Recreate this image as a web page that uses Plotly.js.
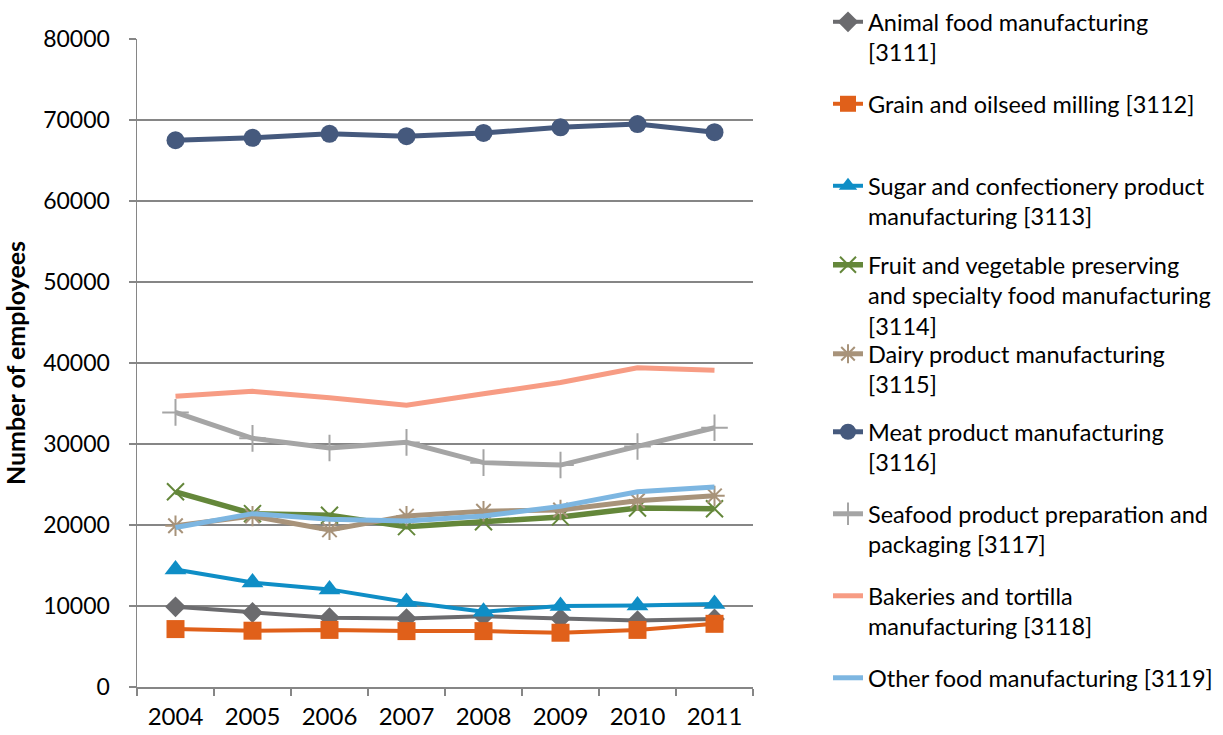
<!DOCTYPE html>
<html>
<head>
<meta charset="utf-8">
<script src="https://cdn.plot.ly/plotly-3.0.1.min.js"></script>
<style>html,body{margin:0;padding:0;background:#fff;}#chart{width:1223px;height:735px;}</style>
</head>
<body>
<div id="chart"></div>
<script>
var years = ['2004','2005','2006','2007','2008','2009','2010','2011'];

var seriesNames = [
  'Animal food manufacturing<br>[3111]',
  'Grain and oilseed milling [3112]',
  'Sugar and confectionery product<br>manufacturing [3113]',
  'Fruit and vegetable preserving<br>and specialty food manufacturing<br>[3114]',
  'Dairy product manufacturing<br>[3115]',
  'Meat product manufacturing<br>[3116]',
  'Seafood product preparation and<br>packaging [3117]',
  'Bakeries and tortilla<br>manufacturing [3118]',
  'Other food manufacturing [3119]'
];

var animalFood   = [9900, 9200, 8550, 8450, 8750, 8450, 8200, 8400];
var grainOilseed = [7150, 6950, 7050, 6900, 6900, 6700, 7050, 7800];
var sugarConf    = [14500, 12900, 12050, 10500, 9300, 10000, 10050, 10250];
var fruitVeg     = [24100, 21400, 21200, 19800, 20400, 21000, 22100, 22000];
var dairy        = [19900, 21100, 19400, 21100, 21700, 21850, 23000, 23600];
var meat         = [67500, 67800, 68300, 68000, 68400, 69100, 69500, 68500];
var seafood      = [33900, 30700, 29500, 30200, 27700, 27400, 29700, 32000];
var bakeries     = [35900, 36500, 35700, 34800, 36200, 37600, 39400, 39100];
var otherFood    = [19700, 21400, 20700, 20500, 21100, 22300, 24100, 24700];

var colors = ['#6B6B6E','#E0601A','#0F8EC6','#64873A','#A8937A','#45597D','#A5A5A5','#F79C84','#7DB6E1'];

function legendId(i) { return i === 0 ? 'legend' : 'legend' + (i + 1); }

function tr(i, vals, lw, marker) {
  var t = {
    type: 'scatter', mode: marker ? 'lines+markers' : 'lines',
    x: years, y: vals, name: seriesNames[i], legend: legendId(i),
    line: {color: colors[i], width: lw},
    cliponaxis: false
  };
  if (marker) t.marker = marker;
  return t;
}

var data = [
  tr(0, animalFood, 4, {symbol: 'diamond', size: 16, color: colors[0]}),
  tr(1, grainOilseed, 4, {symbol: 'square', size: 18, color: colors[1]}),
  tr(2, sugarConf, 4, {symbol: 'triangle-up', size: 19, color: colors[2]}),
  tr(3, fruitVeg, 5.5, {symbol: 'x-thin-open', size: 17, color: colors[3], line: {color: colors[3], width: 2}}),
  tr(4, dairy, 5, {symbol: 'asterisk-open', size: 17, color: colors[4], line: {color: colors[4], width: 2}}),
  tr(5, meat, 5, {symbol: 'circle', size: 18, color: colors[5]}),
  tr(6, seafood, 5, {symbol: 'cross-thin-open', size: 19, color: colors[6], line: {color: colors[6], width: 2}}),
  tr(7, bakeries, 5, null),
  tr(8, otherFood, 5, null)
];

var layout = {
  width: 1223, height: 735,
  margin: {l: 137, r: 470, t: 39, b: 48, autoexpand: false},
  paper_bgcolor: '#ffffff', plot_bgcolor: '#ffffff',
  font: {family: 'Lato, "Open Sans", sans-serif', size: 23, color: '#000000'},
  showlegend: true,
  xaxis: {
    type: 'category', range: [-0.5, 7.5],
    showline: true, linecolor: '#868686', linewidth: 1.5,
    ticks: 'outside', ticklen: 7, tickcolor: '#868686', tickwidth: 1.5,
    tickson: 'boundaries', showgrid: false, zeroline: false,
    ticklabelstandoff: 8,
    tickfont: {family: 'Lato, sans-serif', size: 24, color: '#000000'}
  },
  yaxis: {
    range: [0, 80000], dtick: 10000, tick0: 0, tickformat: 'd',
    showline: true, linecolor: '#868686', linewidth: 1.5,
    ticks: 'outside', ticklen: 7, tickcolor: '#868686', tickwidth: 1.5,
    showgrid: true, gridcolor: '#868686', gridwidth: 1.3, zeroline: false,
    ticklabelstandoff: 14,
    tickfont: {family: 'Lato, sans-serif', size: 23, color: '#000000'},
    title: {text: '<b>Number of employees</b>', font: {family: 'Lato, sans-serif', size: 25, color: '#000000'}, standoff: 12}
  }
};

// one legend box per series, stacked at a fixed pitch like the original
var plotTop = 39, plotH = 648, pitch = 82, firstTop = 0;
var nudge = [0, 0, 0, -3, 4, 0, 0, 0, 0];
for (var i = 0; i < seriesNames.length; i++) {
  var topPx = firstTop + pitch * i + nudge[i];
  layout[legendId(i)] = {
    x: (828 - 137) / 616, xanchor: 'left',
    y: 1 + (plotTop - topPx) / plotH, yanchor: 'top',
    yref: 'paper', xref: 'paper',
    font: {family: 'Lato, sans-serif', size: 23.5, color: '#000000'},
    valign: 'top', bgcolor: 'rgba(0,0,0,0)', borderwidth: 0, maxheight: 200
  };
}

Plotly.newPlot('chart', data, layout, {staticPlot: true, displayModeBar: false});
</script>
</body>
</html>
